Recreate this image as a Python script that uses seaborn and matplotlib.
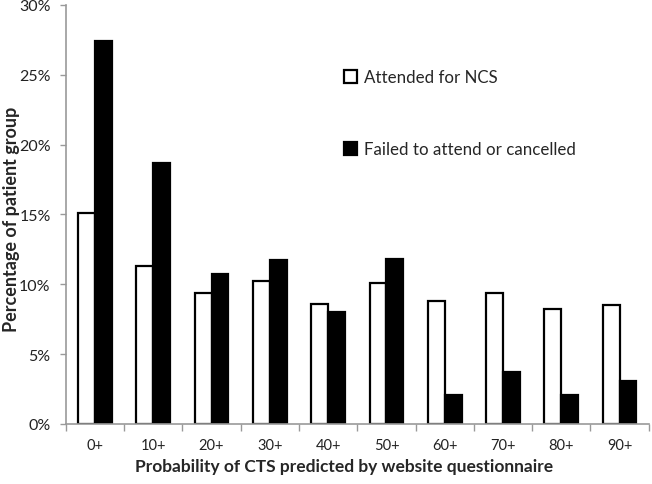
import pandas as pd
import numpy as np
import seaborn as sns
import matplotlib.pyplot as plt
from matplotlib.ticker import FuncFormatter, FixedLocator

# probability bins and % of each patient group
bins = ['0+', '10+', '20+', '30+', '40+', '50+', '60+', '70+', '80+', '90+']
attended = [15.1, 11.3, 9.4, 10.2, 8.6, 10.1, 8.8, 9.4, 8.2, 8.5]
failed = [27.4, 18.7, 10.7, 11.7, 8.0, 11.8, 2.1, 3.7, 2.1, 3.1]
groups = ['Attended for NCS', 'Failed to attend or cancelled']

sns.set_style('white')
plt.rcParams['font.family'] = ['Lato', 'DejaVu Sans']

df = pd.DataFrame({
    'bin': bins * 2,
    'pct': attended + failed,
    'group': [groups[0]] * len(bins) + [groups[1]] * len(bins),
})

fig = plt.figure(figsize=(6.52, 4.85), dpi=100)
ax = fig.add_axes([0.101, 0.124, 0.894, 0.864])

sns.barplot(data=df, x='bin', y='pct', hue='group', order=bins, hue_order=groups,
            palette=['white', 'black'], edgecolor='black', linewidth=1.6,
            width=0.58, ax=ax)

ax.set_ylim(0, 30)
ax.set_xlim(-0.5, 9.5)
ax.set_yticks(np.arange(0, 31, 5))
ax.yaxis.set_major_formatter(FuncFormatter(lambda v, p: '%d%%' % v))

# ticks sit between categories like the original
ax.tick_params(axis='x', which='major', length=0, pad=10, labelsize=10.5, labelcolor='#222222')
ax.xaxis.set_minor_locator(FixedLocator(np.arange(-0.5, 10, 1)))
ax.tick_params(axis='x', which='minor', length=5, color='#999999', width=1, direction='out', bottom=True)
ax.tick_params(axis='y', length=4, color='#999999', width=1, direction='out', left=True,
               labelsize=11.5, labelcolor='#222222', pad=7)

for s in ['top', 'right']:
    ax.spines[s].set_visible(False)
for s in ['left', 'bottom']:
    ax.spines[s].set_color('#999999')
    ax.spines[s].set_linewidth(1.2)

ax.set_xlabel('Probability of CTS predicted by website questionnaire',
              fontsize=12.5, fontweight='bold')
ax.xaxis.set_label_coords(0.478, -0.082)
ax.set_ylabel('Percentage of patient group', fontsize=13, fontweight='bold')
ax.yaxis.set_label_coords(-0.078, 0.49)

leg = ax.legend(loc='upper left', bbox_to_anchor=(0.465, 0.862), frameon=False,
                fontsize=12.2, labelspacing=3.3, handlelength=0.8, handleheight=0.8,
                handletextpad=0.4, borderaxespad=0)

fig.savefig('out.png', dpi=100)
